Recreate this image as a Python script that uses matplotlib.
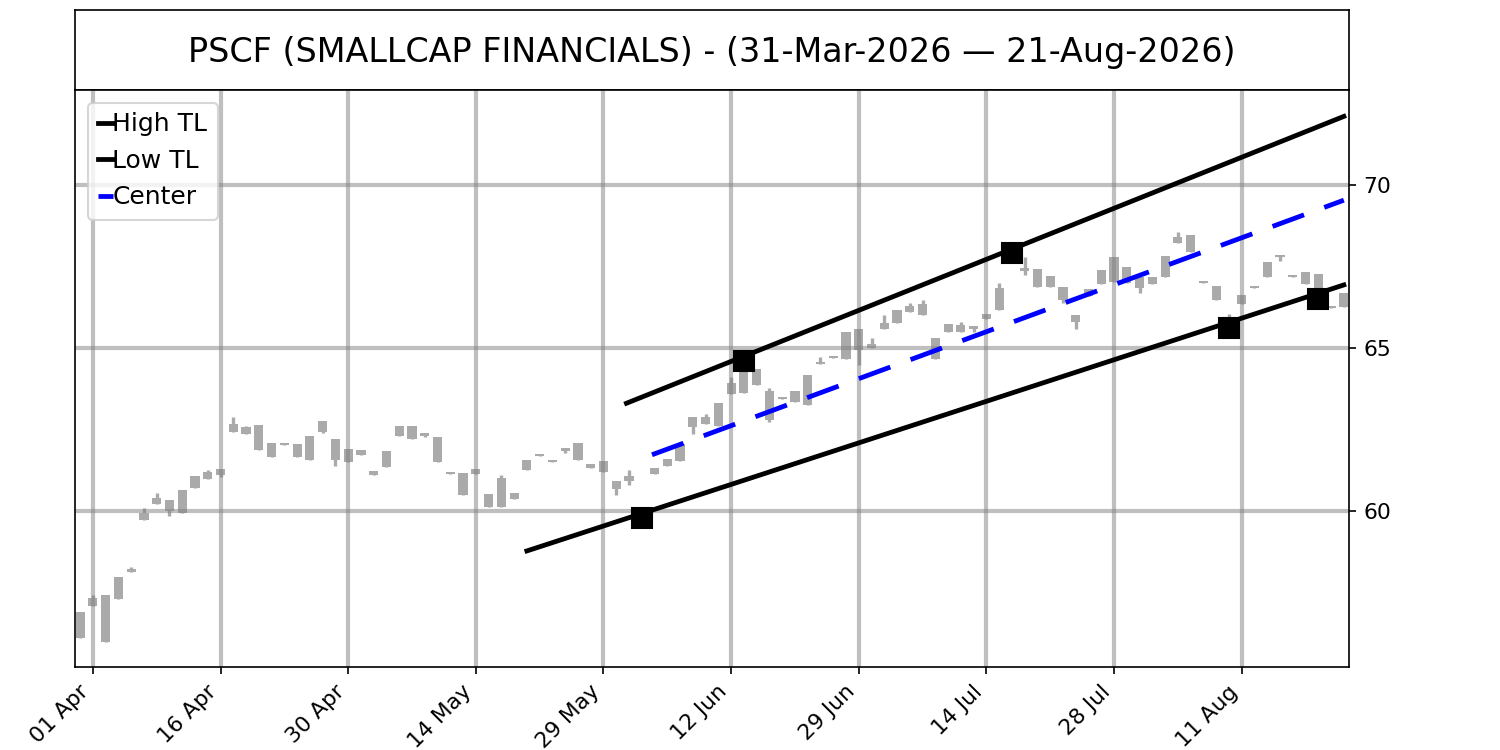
import numpy as np
import pandas as pd
import matplotlib
matplotlib.use('Agg')
import matplotlib.pyplot as plt

# trading days 31-Mar-2026 .. 21-Aug-2026 (US market holidays removed)
holidays = ['2026-04-03', '2026-05-25', '2026-06-19', '2026-07-03']
dates = pd.bdate_range('2026-03-31', '2026-08-21', freq='C', holidays=holidays)

opens = [56.10, 57.09, 57.42, 57.30, 58.13, 59.72, 60.21, 60.34, 59.94, 60.71,
         60.98, 61.10, 62.42, 62.58, 62.64, 62.09, 62.07, 62.06, 61.56, 62.42,
         62.21, 61.90, 61.72, 61.23, 61.35, 62.30, 62.61, 62.39, 62.27, 61.20,
         61.17, 61.14, 60.52, 60.12, 60.55, 61.26, 61.72, 61.55, 61.84, 61.56,
         61.44, 61.53, 60.90, 60.92, 60.00, 61.14, 61.38, 61.53, 62.58, 62.67,
         62.61, 63.59, 63.62, 64.36, 63.68, 63.46, 63.34, 63.25, 64.51, 64.74,
         64.66, 65.58, 65.00, 65.58, 65.77, 66.10, 66.35, 65.31, 65.49, 65.49,
         65.67, 65.90, 66.17, 67.60, 67.45, 67.42, 67.21, 66.87, 66.01, 66.60,
         66.96, 67.02, 67.48, 67.18, 66.96, 67.18, 68.22, 68.47, 67.04, 66.90,
         65.95, 66.35, 66.83, 67.18, 67.85, 67.24, 67.33, 67.27, 66.28, 66.26]
closes = [56.90, 57.33, 55.98, 57.98, 58.22, 59.94, 60.40, 60.00, 60.64, 61.07,
          61.20, 61.29, 62.67, 62.36, 61.87, 61.66, 62.03, 61.66, 62.30, 62.76,
          61.56, 61.50, 61.87, 61.10, 61.84, 62.61, 62.21, 62.30, 61.50, 61.14,
          60.49, 61.29, 60.12, 61.01, 60.37, 61.56, 61.68, 61.51, 61.93, 62.09,
          61.32, 61.20, 60.67, 61.07, 59.90, 61.32, 61.60, 62.06, 62.88, 62.88,
          63.31, 63.93, 64.26, 63.87, 62.79, 63.42, 63.68, 64.17, 64.57, 64.70,
          65.49, 64.94, 65.12, 65.77, 66.17, 66.29, 66.01, 64.66, 65.74, 65.71,
          65.58, 66.04, 66.84, 67.85, 67.36, 66.87, 66.87, 66.47, 65.80, 66.81,
          67.39, 67.79, 66.99, 66.84, 67.18, 67.82, 68.40, 67.94, 67.00, 66.47,
          65.75, 66.63, 66.87, 67.64, 67.79, 67.18, 66.96, 66.72, 66.22, 66.69]
highs = [56.90, 57.42, 57.42, 57.98, 58.28, 60.09, 60.55, 60.34, 60.64, 61.07,
         61.26, 61.29, 62.88, 62.60, 62.64, 62.09, 62.07, 62.06, 62.30, 62.76,
         62.21, 61.90, 61.87, 61.23, 61.84, 62.61, 62.61, 62.39, 62.27, 61.20,
         61.17, 61.29, 60.52, 61.10, 60.55, 61.56, 61.72, 61.55, 61.93, 62.09,
         61.44, 61.53, 60.90, 61.26, 60.05, 61.32, 61.60, 62.06, 62.88, 62.97,
         63.31, 64.11, 64.60, 64.36, 63.77, 63.46, 63.68, 64.17, 64.72, 64.74,
         65.49, 65.58, 65.31, 66.01, 66.17, 66.38, 66.47, 65.31, 65.74, 65.80,
         65.67, 66.04, 67.00, 67.91, 67.79, 67.42, 67.21, 66.87, 66.01, 66.81,
         67.39, 67.79, 67.48, 67.18, 67.18, 67.82, 68.56, 68.47, 67.04, 66.90,
         66.04, 66.63, 66.87, 67.64, 67.85, 67.24, 67.33, 67.27, 66.28, 66.69]
lows = [56.10, 57.09, 55.98, 57.30, 58.13, 59.72, 60.21, 59.85, 59.94, 60.71,
        60.98, 61.04, 62.42, 62.36, 61.87, 61.66, 62.03, 61.66, 61.56, 62.38,
        61.38, 61.50, 61.72, 61.10, 61.35, 62.30, 62.21, 62.28, 61.50, 61.14,
        60.49, 61.14, 60.12, 60.12, 60.37, 61.26, 61.68, 61.51, 61.78, 61.56,
        61.32, 61.20, 60.48, 60.80, 59.79, 61.14, 61.38, 61.53, 62.36, 62.67,
        62.61, 63.59, 63.62, 63.87, 62.73, 63.42, 63.34, 63.25, 64.51, 64.70,
        64.66, 64.48, 65.00, 65.58, 65.77, 66.10, 66.01, 64.66, 65.49, 65.49,
        65.49, 65.90, 66.17, 67.60, 67.24, 66.87, 66.87, 66.38, 65.58, 66.60,
        66.96, 67.02, 66.99, 66.69, 66.96, 67.18, 68.22, 67.94, 67.00, 66.47,
        65.61, 66.35, 66.83, 67.18, 67.67, 67.18, 66.96, 66.50, 66.22, 66.26]

# trend lines (index of trading day, price)
high_tl_x = [42.8, 99.0]
high_tl_y = [63.30, 72.10]
low_tl_x = [35.0, 99.0]
low_tl_y = [58.77, 66.93]
center_x = [44.8, 99.0]
center_y = [61.72, 69.53]

# pivot points
pivot_x = [44, 52, 73, 90, 97]
pivot_y = [59.79, 64.60, 67.91, 65.61, 66.50]

title = 'PSCF (SMALLCAP FINANCIALS) - (31-Mar-2026 \u2014 21-Aug-2026)'

fig = plt.figure(figsize=(10, 5), dpi=150)
ax_t = fig.add_axes([0.05, 0.88, 0.8493, 0.1067])
ax_t.set_xticks([])
ax_t.set_yticks([])
ax_t.text(0.5, 0.47, title, ha='center', va='center', fontsize=16, transform=ax_t.transAxes)

ax = fig.add_axes([0.05, 0.1107, 0.8493, 0.7693])
x = np.arange(len(dates))
o = np.array(opens)
c = np.array(closes)
body_lo = np.minimum(o, c)
body_h = np.maximum(np.abs(c - o), 0.06)
ax.vlines(x, lows, highs, color='#aaaaaa', linewidth=1.6, zorder=1)
ax.bar(x, body_h, bottom=body_lo, width=0.72, color='#aaaaaa',
       linewidth=0, zorder=1)

ax.plot(high_tl_x, high_tl_y, color='black', linewidth=2.3, label='High TL', zorder=3)
ax.plot(low_tl_x, low_tl_y, color='black', linewidth=2.3, label='Low TL', zorder=3)
ax.plot(center_x, center_y, color='blue', linewidth=2.3, dashes=(7, 4.5),
        label='Center', zorder=3)
ax.plot(pivot_x, pivot_y, 's', color='black', markersize=10, linestyle='none', zorder=4)

ticks = list(range(1, len(dates), 10))
ax.set_xticks(ticks)
ax.set_xticklabels([dates[i].strftime('%d %b') for i in ticks], rotation=45,
                   ha='right', fontsize=10.5)
ax.yaxis.tick_right()
ax.set_yticks([60, 65, 70])
ax.tick_params(axis='y', labelsize=10.5)
ax.set_xlim(-0.4, 99.4)
ax.set_ylim(55.21, 72.91)
ax.grid(True, color='gray', alpha=0.5, linewidth=2, zorder=1.5)
ax.set_axisbelow('line')

ax.legend(loc='upper left', fontsize=12, handlelength=0.6, handletextpad=0.0)

plt.savefig('out.png')
